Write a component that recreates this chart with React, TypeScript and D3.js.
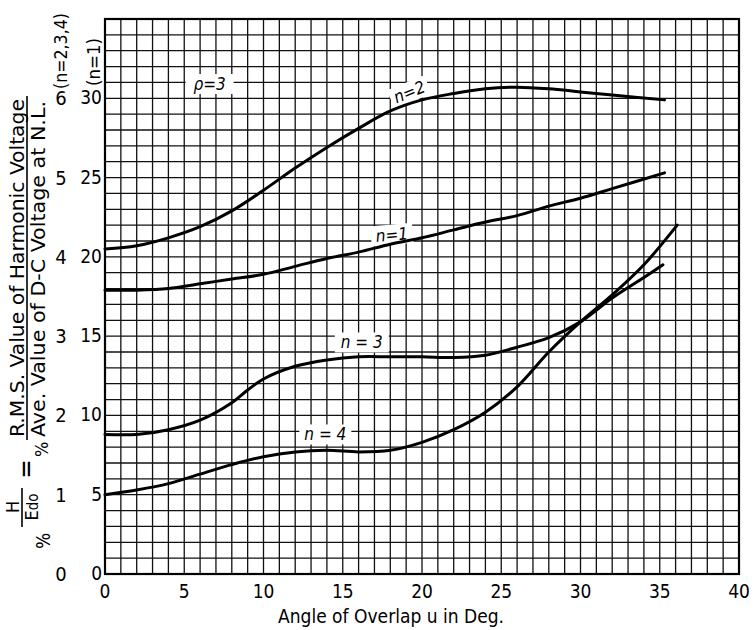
import * as d3 from 'd3';

const xTicks = [0, 5, 10, 15, 20, 25, 30, 35, 40];
const yTicksN1 = [0, 5, 10, 15, 20, 25, 30];
const yTicksN234 = [0, 1, 2, 3, 4, 5, 6];

// n = 1, read on the inner (n=1) scale, percent
const n1Angle = [0, 2, 4, 6, 8, 10, 12, 14, 16, 18, 20, 22, 24, 26, 28, 30, 32, 35.3];
const n1Value = [17.9, 17.9, 18.0, 18.3, 18.6, 18.9, 19.4, 19.9, 20.3, 20.8, 21.2, 21.7, 22.2, 22.6, 23.2, 23.7, 24.3, 25.3];

// n = 2, 3, 4, read on the outer (n=2,3,4) scale, percent
const n2Angle = [0, 2, 4, 6, 8, 10, 12, 14, 16, 18, 20, 22, 24, 26, 28, 30, 32, 35.3];
const n2Value = [4.10, 4.14, 4.24, 4.38, 4.58, 4.84, 5.12, 5.38, 5.62, 5.84, 5.98, 6.06, 6.12, 6.14, 6.12, 6.08, 6.04, 5.98];

const n3Angle = [0, 2, 4, 6, 8, 9, 10, 12, 14, 16, 18, 20, 22, 24, 26, 28, 30, 32, 34, 35.2];
const n3Value = [1.76, 1.76, 1.82, 1.94, 2.16, 2.32, 2.46, 2.62, 2.70, 2.74, 2.74, 2.74, 2.73, 2.76, 2.86, 2.98, 3.18, 3.48, 3.74, 3.90];

const n4Angle = [0, 2, 4, 6, 8, 10, 12, 14, 16, 18, 20, 22, 24, 26, 28, 30, 32, 34, 36.1];
const n4Value = [1.00, 1.06, 1.14, 1.26, 1.38, 1.48, 1.54, 1.56, 1.54, 1.56, 1.66, 1.82, 2.04, 2.36, 2.80, 3.18, 3.52, 3.90, 4.40];

const FONT = "'Liberation Sans Narrow', 'DejaVu Sans Condensed', 'DejaVu Sans', sans-serif";

export default function App() {
  const x = d3.scaleLinear().domain([0, 40]).range([105, 739]);
  const yN1 = d3.scaleLinear().domain([0, 35]).range([574, 19]);
  const yN234 = d3.scaleLinear().domain([0, 7]).range([574, 19]);

  const makeLine = (us: number[], vs: number[], y: d3.ScaleLinear<number, number>) =>
    d3.line<number>()
      .x((_, i) => x(us[i]))
      .y(d => y(d))
      .curve(d3.curveCatmullRom.alpha(0.5))(vs) || '';

  const curves = [
    makeLine(n1Angle, n1Value, yN1),
    makeLine(n2Angle, n2Value, yN234),
    makeLine(n3Angle, n3Value, yN234),
    makeLine(n4Angle, n4Value, yN234),
  ];

  // curve labels, placed in data units of the n=1 scale
  const labels = [
    { text: 'ρ=3', u: 6.6, v: 30.9, w: 48, rot: 0 },
    { text: 'n=2', u: 19.2, v: 30.4, w: 40, rot: -22 },
    { text: 'n=1', u: 18.1, v: 21.4, w: 42, rot: -5 },
    { text: 'n = 3', u: 16.2, v: 14.6, w: 54, rot: 0 },
    { text: 'n = 4', u: 13.9, v: 8.8, w: 52, rot: 0 },
  ];

  const [x0, x1] = x.range();
  const [yb, yt] = yN1.range();

  return (
    <svg width={755} height={630} style={{ position: 'absolute', left: 0, top: 0, background: '#fff' }} fontFamily={FONT}>
      <rect width={755} height={630} fill="#fff" />
      {/* grid */}
      <g stroke="#111" strokeWidth={1.3}>
        {d3.range(0, 41).map(u => (
          <line key={'gx' + u} x1={x(u)} x2={x(u)} y1={yt} y2={yb} />
        ))}
        {d3.range(0, 36).map(v => (
          <line key={'gy' + v} x1={x0} x2={x1} y1={yN1(v)} y2={yN1(v)} />
        ))}
      </g>
      <rect x={x0} y={yt} width={x1 - x0} height={yb - yt} fill="none" stroke="#000" strokeWidth={2.2} />

      {/* label backgrounds */}
      {labels.map(l => (
        <rect key={'bg' + l.text} x={-l.w / 2} y={-10} width={l.w} height={20} fill="#fff"
          transform={`translate(${x(l.u)},${yN1(l.v)}) rotate(${l.rot})`} />
      ))}

      {/* curves */}
      <g fill="none" stroke="#000" strokeWidth={3} strokeLinecap="round">
        {curves.map((d, i) => <path key={'c' + i} d={d} />)}
      </g>

      {labels.map(l => (
        <text key={'lb' + l.text} textAnchor="middle" dominantBaseline="central" fontSize={17} fontStyle="italic"
          transform={`translate(${x(l.u)},${yN1(l.v)}) rotate(${l.rot})`}>{l.text}</text>
      ))}

      {/* x ticks */}
      {xTicks.map(t => (
        <text key={'xt' + t} x={x(t)} y={598} textAnchor="middle" fontSize={19}>{t}</text>
      ))}
      <text x={391} y={623} textAnchor="middle" fontSize={19} textLength={226} lengthAdjust="spacingAndGlyphs">Angle of Overlap u in Deg.</text>

      {/* y ticks, n=1 scale */}
      {yTicksN1.map(t => (
        <text key={'y1' + t} x={102} y={yN1(t) + 6} textAnchor="end" fontSize={19}>{t}</text>
      ))}
      {/* y ticks, n=2,3,4 scale */}
      {yTicksN234.map(t => (
        <text key={'y2' + t} x={61} y={yN234(t) + 7} textAnchor="middle" fontSize={20}>{t}</text>
      ))}

      {/* rotated axis texts */}
      <g transform="rotate(-90)">
        <text x={-51} y={67} textAnchor="middle" fontSize={17} textLength={76} lengthAdjust="spacingAndGlyphs">(n=2,3,4)</text>
        <text x={-62} y={100} textAnchor="middle" fontSize={17} textLength={48} lengthAdjust="spacingAndGlyphs">(n=1)</text>

        <text x={-549} y={50} fontSize={19}>%</text>
        <text x={-507} y={19} textAnchor="middle" fontSize={18}>H</text>
        <line x1={-527} x2={-488} y1={22} y2={22} stroke="#000" strokeWidth={1.6} />
        <text x={-507} y={38} textAnchor="middle" fontSize={18}>E<tspan fontSize={15}>do</tspan></text>
        <text x={-469} y={26} textAnchor="middle" dominantBaseline="central" fontSize={26}>=</text>
        <text x={-457} y={48} fontSize={18}>%</text>

        <text x={-437} y={24} fontSize={19} textLength={338} lengthAdjust="spacingAndGlyphs">R.M.S. Value of Harmonic Voltage</text>
        <line x1={-440} x2={-96} y1={27} y2={27} stroke="#000" strokeWidth={1.6} />
        <text x={-437} y={45} fontSize={19} textLength={336} lengthAdjust="spacingAndGlyphs">Ave. Value of D-C Voltage at N.L.</text>
      </g>
    </svg>
  );
}
